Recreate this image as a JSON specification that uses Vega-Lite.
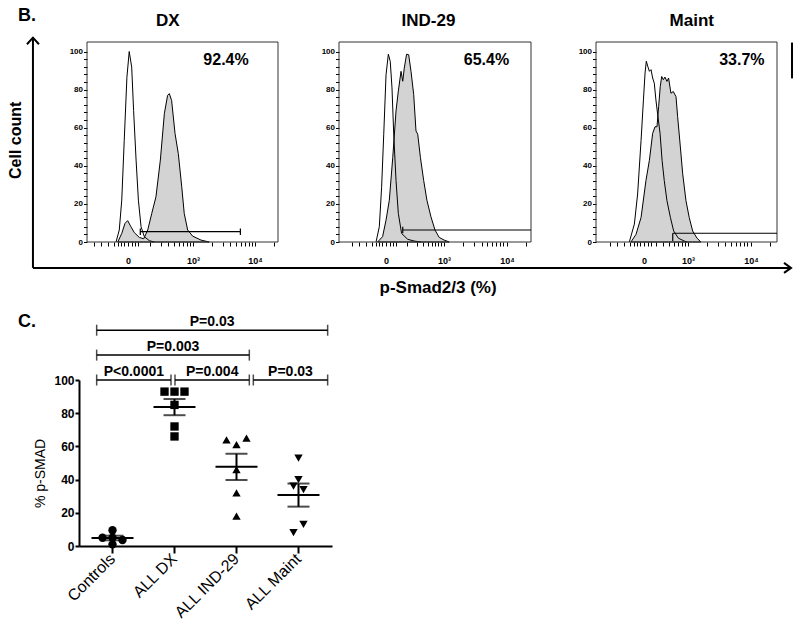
{
 "$schema": "https://vega.github.io/schema/vega-lite/v6.json",
 "padding": {"left": 7, "top": 6, "right": 0, "bottom": 0},
 "config": {
  "font": "Liberation Sans",
  "view": {"stroke": null},
  "axis": {"domainColor": "black", "tickColor": "black", "labelColor": "black", "titleColor": "black", "grid": false},
  "text": {"color": "black"}
 },
 "datasets": {
  "dx_open": [{"x":15.2,"y":0},{"x":16.9,"y":6.3},{"x":18.2,"y":22},{"x":19.5,"y":53.4},{"x":20.9,"y":86.5},{"x":22.1,"y":100},{"x":23.4,"y":91.8},{"x":24.4,"y":69},{"x":25.7,"y":43},{"x":26.9,"y":22},{"x":28.3,"y":8},{"x":30,"y":2.8},{"x":32.6,"y":0.7},{"x":35.2,"y":0}],
  "dx_fill": [{"x":16.1,"y":0},{"x":18.2,"y":4.5},{"x":19.9,"y":9.8},{"x":21.3,"y":11.2},{"x":23,"y":8},{"x":24.8,"y":4.9},{"x":27.4,"y":2.4},{"x":29.7,"y":1.7},{"x":31.8,"y":6.3},{"x":33.9,"y":15},{"x":36.1,"y":23.7},{"x":38.4,"y":43},{"x":40.5,"y":67.4},{"x":42.2,"y":77},{"x":43.1,"y":77.9},{"x":44.3,"y":74.3},{"x":46.1,"y":56.9},{"x":47.8,"y":46.4},{"x":49.6,"y":29},{"x":50.9,"y":15},{"x":52.7,"y":6.3},{"x":55.3,"y":3.1},{"x":59.7,"y":1},{"x":64,"y":0}],
  "ind_open": [{"x":19.3,"y":0},{"x":21,"y":8},{"x":22.2,"y":28.8},{"x":23.3,"y":56.6},{"x":24.5,"y":87.8},{"x":25.7,"y":98.6},{"x":26.7,"y":94.8},{"x":27.6,"y":80.9},{"x":28.5,"y":56.6},{"x":29.7,"y":32.3},{"x":30.9,"y":15},{"x":32.6,"y":4.5},{"x":35.8,"y":1.4},{"x":39.2,"y":0.5},{"x":42.7,"y":0}],
  "ind_fill": [{"x":20.1,"y":0},{"x":22.7,"y":2.8},{"x":24.5,"y":11.5},{"x":26.2,"y":21.9},{"x":28,"y":44.4},{"x":29.7,"y":68.8},{"x":30.9,"y":79.2},{"x":32.3,"y":89.6},{"x":33.2,"y":84.4},{"x":34,"y":91.3},{"x":35.2,"y":98.6},{"x":36.3,"y":98.3},{"x":37.5,"y":89.6},{"x":38.9,"y":77.4},{"x":40.1,"y":58.3},{"x":41,"y":56.6},{"x":42.4,"y":44.4},{"x":44.1,"y":32.3},{"x":45.8,"y":21.9},{"x":47.9,"y":13.2},{"x":50,"y":6.3},{"x":52.2,"y":2.4},{"x":54.8,"y":1},{"x":57.4,"y":0}],
  "maint_open": [{"x":18.4,"y":0},{"x":21.2,"y":9.4},{"x":23,"y":25.2},{"x":24.9,"y":53.4},{"x":26.2,"y":74.6},{"x":27.1,"y":88.7},{"x":27.8,"y":94.9},{"x":28.6,"y":92.2},{"x":29.5,"y":89.6},{"x":30.4,"y":90.5},{"x":31.3,"y":86.1},{"x":32.2,"y":83.4},{"x":33.1,"y":74.6},{"x":34.1,"y":66.7},{"x":35.4,"y":57},{"x":36.5,"y":42.9},{"x":37.7,"y":32.3},{"x":39.2,"y":21.7},{"x":41.1,"y":12.9},{"x":42.9,"y":5.8},{"x":45.5,"y":2},{"x":48.8,"y":0.5},{"x":50.4,"y":0}],
  "maint_fill": [{"x":19.3,"y":0},{"x":22.1,"y":4},{"x":24.9,"y":12.9},{"x":27.6,"y":32.3},{"x":29.5,"y":42.9},{"x":31.3,"y":57},{"x":32.6,"y":60.5},{"x":33.7,"y":60.5},{"x":34.6,"y":71.1},{"x":35.5,"y":81.6},{"x":36.3,"y":86.9},{"x":37.2,"y":85.2},{"x":38.1,"y":86.6},{"x":39.2,"y":84.3},{"x":40.1,"y":86.1},{"x":41.4,"y":78.1},{"x":42.7,"y":79},{"x":44.2,"y":76.3},{"x":45.1,"y":65.8},{"x":46.6,"y":49.9},{"x":47.9,"y":35.8},{"x":49.7,"y":21.7},{"x":51.5,"y":12.9},{"x":53.4,"y":5.8},{"x":55.8,"y":2},{"x":58,"y":0}],
  "smad": [
   {"group":"Controls","value":9.5,"slot":0},{"group":"Controls","value":5,"slot":-2},{"group":"Controls","value":5,"slot":0},{"group":"Controls","value":3.6,"slot":2},{"group":"Controls","value":1,"slot":0},
   {"group":"ALL DX","value":93,"slot":-2},{"group":"ALL DX","value":93,"slot":0},{"group":"ALL DX","value":93,"slot":2},{"group":"ALL DX","value":85,"slot":0},{"group":"ALL DX","value":72,"slot":0},{"group":"ALL DX","value":66,"slot":0},
   {"group":"ALL IND-29","value":64,"slot":-2},{"group":"ALL IND-29","value":61,"slot":0},{"group":"ALL IND-29","value":65,"slot":2},{"group":"ALL IND-29","value":46,"slot":0},{"group":"ALL IND-29","value":32,"slot":0},{"group":"ALL IND-29","value":18,"slot":0},
   {"group":"ALL Maint","value":53,"slot":0},{"group":"ALL Maint","value":40,"slot":0},{"group":"ALL Maint","value":36,"slot":-1},{"group":"ALL Maint","value":34,"slot":1},{"group":"ALL Maint","value":13,"slot":1},{"group":"ALL Maint","value":8,"slot":-1}
  ],
  "brackets": [
   {"p":"P=0.03","from":1,"to":4,"level":130},
   {"p":"P=0.003","from":1,"to":3,"level":115},
   {"p":"P<0.0001","from":1,"to":2,"level":100},
   {"p":"P=0.004","from":2,"to":3,"level":100},
   {"p":"P=0.03","from":3,"to":4,"level":100}
  ]
 },
 "columns": 3,
 "align": "none",
 "bounds": "flush",
 "spacing": {"row": 138, "column": 7},
 "concat": [
  {
   "width": 199, "height": 200,
   "data": {"values": [{}]},
   "resolve": {"axis": {"x": "independent", "y": "independent"}},
   "layer": [
    {"data": {"name": "dx_fill"},
     "mark": {"type": "area", "fill": "#d3d3d3", "stroke": "black", "strokeWidth": 1},
     "encoding": {
      "x": {"field": "x", "type": "quantitative", "scale": {"domain": [-4.19, 100], "nice": false, "zero": false},
            "axis": {"values": [3.7,7.3,11,14.1,16.2,17.8,19.4,21.5,23.6,25.1,26.7,33,38.7,42.4,45.5,48.2,50.3,52.4,53.9,55.5,65.4,71.2,74.9,78,80.6,82.7,84.8,86.4,88,97.9],
                     "labelExpr": "datum.value == 21.5 ? '0' : datum.value == 55.5 ? '10³' : datum.value == 88 ? '10⁴' : ''",
                     "title": null, "domain": false, "tickSize": 4, "tickWidth": 1, "tickColor": "black", "labelColor": "black", "labelFontSize": 9, "labelFontWeight": "bold", "labelPadding": 10, "labelFlush": false, "labelOverlap": false}},
      "y": {"field": "y", "type": "quantitative", "scale": {"domain": [0, 105], "nice": false},
            "axis": {"values": [0,4,8,12,16,20,24,28,32,36,40,44,48,52,56,60,64,68,72,76,80,84,88,92,96,100],
                     "labelExpr": "datum.value % 20 === 0 ? datum.label : ''",
                     "title": null, "domain": false, "tickSize": 3.5, "tickWidth": 1, "tickColor": "black", "labelColor": "black", "labelFontSize": 8, "labelFontWeight": "bold", "labelPadding": 1, "offset": -8, "labelFlush": false, "labelOverlap": false}}
     }},
    {"data": {"name": "dx_open"},
     "mark": {"type": "line", "color": "black", "strokeWidth": 1},
     "encoding": {
      "x": {"field": "x", "type": "quantitative", "scale": {"domain": [-4.19, 100], "nice": false, "zero": false}, "axis": null},
      "y": {"field": "y", "type": "quantitative", "scale": {"domain": [0, 105], "nice": false}, "axis": null}
     }},
    {"mark": {"type": "rect", "fill": "white", "fillOpacity": 0, "stroke": "#333333", "strokeWidth": 1},
     "encoding": {
      "x": {"datum": 0, "type": "quantitative", "scale": {"domain": [-4.19, 100], "nice": false, "zero": false}, "axis": null},
      "x2": {"datum": 100},
      "y": {"datum": 0, "type": "quantitative", "scale": {"domain": [0, 105], "nice": false}, "axis": null},
      "y2": {"datum": 105}
     }},
    {"mark": {"type": "rule", "color": "black", "strokeWidth": 1.2},
     "encoding": {
      "x": {"datum": 27.9, "type": "quantitative", "scale": {"domain": [-4.19, 100], "nice": false, "zero": false}, "axis": null},
      "x2": {"datum": 80.3},
      "y": {"datum": 5.4, "type": "quantitative", "scale": {"domain": [0, 105], "nice": false}, "axis": null}
     }},
    {"mark": {"type": "rule", "color": "black", "strokeWidth": 1.2},
     "encoding": {
      "x": {"datum": 27.9, "type": "quantitative", "scale": {"domain": [-4.19, 100], "nice": false, "zero": false}, "axis": null},
      "y": {"datum": 3.7, "type": "quantitative", "scale": {"domain": [0, 105], "nice": false}, "axis": null},
      "y2": {"datum": 7.1}
     }},
    {"mark": {"type": "rule", "color": "black", "strokeWidth": 1.2},
     "encoding": {
      "x": {"datum": 80.3, "type": "quantitative", "scale": {"domain": [-4.19, 100], "nice": false, "zero": false}, "axis": null},
      "y": {"datum": 3.7, "type": "quantitative", "scale": {"domain": [0, 105], "nice": false}, "axis": null},
      "y2": {"datum": 7.1}
     }},
    {"mark": {"type": "text", "text": "92.4%", "fontSize": 16, "fontWeight": "bold", "align": "center", "baseline": "alphabetic"},
     "encoding": {
      "x": {"datum": 72.8, "type": "quantitative", "scale": {"domain": [-4.19, 100], "nice": false, "zero": false}, "axis": null},
      "y": {"datum": 92.7, "type": "quantitative", "scale": {"domain": [0, 105], "nice": false}, "axis": null}
     }},
    {"mark": {"type": "text", "text": "DX", "fontSize": 17, "fontWeight": "bold", "align": "center", "baseline": "alphabetic"},
     "encoding": {
      "x": {"datum": 42.3, "type": "quantitative", "scale": {"domain": [-4.19, 100], "nice": false, "zero": false}, "axis": null},
      "y": {"datum": 113.6, "type": "quantitative", "scale": {"domain": [0, 105], "nice": false}, "axis": null}
     }},
    {"mark": {"type": "text", "text": "B.", "fontSize": 18, "fontWeight": "bold", "align": "left", "baseline": "alphabetic"},
     "encoding": {
      "x": {"datum": -36.1, "type": "quantitative", "scale": {"domain": [-4.19, 100], "nice": false, "zero": false}, "axis": null},
      "y": {"datum": 116.2, "type": "quantitative", "scale": {"domain": [0, 105], "nice": false}, "axis": null}
     }},
    {"mark": {"type": "text", "text": "Cell count", "fontSize": 16, "fontWeight": "bold", "align": "center", "baseline": "middle", "angle": 270},
     "encoding": {
      "x": {"datum": -37.2, "type": "quantitative", "scale": {"domain": [-4.19, 100], "nice": false, "zero": false}, "axis": null},
      "y": {"datum": 53.4, "type": "quantitative", "scale": {"domain": [0, 105], "nice": false}, "axis": null}
     }},
    {"mark": {"type": "rule", "color": "black", "strokeWidth": 2},
     "encoding": {
      "x": {"datum": -28.3, "type": "quantitative", "scale": {"domain": [-4.19, 100], "nice": false, "zero": false}, "axis": null},
      "y": {"datum": -13.6, "type": "quantitative", "scale": {"domain": [0, 105], "nice": false}, "axis": null},
      "y2": {"datum": 107.3}
     }},
    {"mark": {"type": "rule", "color": "black", "strokeWidth": 2},
     "encoding": {
      "x": {"datum": -28.3, "type": "quantitative", "scale": {"domain": [-4.19, 100], "nice": false, "zero": false}, "axis": null},
      "x2": {"datum": 368.6},
      "y": {"datum": -13.6, "type": "quantitative", "scale": {"domain": [0, 105], "nice": false}, "axis": null}
     }},
    {"mark": {"type": "point", "shape": "M-1,1.1L0,0L1,1.1", "filled": false, "color": "black", "strokeWidth": 2, "size": 144, "opacity": 1},
     "encoding": {
      "x": {"datum": -28.3, "type": "quantitative", "scale": {"domain": [-4.19, 100], "nice": false, "zero": false}, "axis": null},
      "y": {"datum": 107.3, "type": "quantitative", "scale": {"domain": [0, 105], "nice": false}, "axis": null}
     }},
    {"mark": {"type": "point", "shape": "M-1.4,-1L0,0L-1.4,1", "filled": false, "color": "black", "strokeWidth": 2, "size": 100, "opacity": 1},
     "encoding": {
      "x": {"datum": 368.6, "type": "quantitative", "scale": {"domain": [-4.19, 100], "nice": false, "zero": false}, "axis": null},
      "y": {"datum": -13.6, "type": "quantitative", "scale": {"domain": [0, 105], "nice": false}, "axis": null}
     }}
   ]
  },
  {
   "width": 246, "height": 200,
   "data": {"values": [{}]},
   "resolve": {"axis": {"x": "independent", "y": "independent"}},
   "layer": [
    {"data": {"name": "ind_fill"},
     "mark": {"type": "area", "fill": "#d3d3d3", "stroke": "black", "strokeWidth": 1},
     "encoding": {
      "x": {"field": "x", "type": "quantitative", "scale": {"domain": [0, 128.125], "nice": false, "zero": false},
            "axis": {"values": [6.8,10.4,14.1,17.2,19.3,20.8,22.4,24.5,26.6,28.1,29.7,35.4,40.6,43.8,46.4,48.4,50,51.6,53.1,54.7,64.6,70.3,74.5,77.1,79.7,81.8,83.9,85.4,87.5,97.4],
                     "labelExpr": "datum.value == 24.5 ? '0' : datum.value == 54.7 ? '10³' : datum.value == 87.5 ? '10⁴' : ''",
                     "title": null, "domain": false, "tickSize": 4, "tickWidth": 1, "tickColor": "black", "labelColor": "black", "labelFontSize": 9, "labelFontWeight": "bold", "labelPadding": 10, "labelFlush": false, "labelOverlap": false}},
      "y": {"field": "y", "type": "quantitative", "scale": {"domain": [0, 105], "nice": false},
            "axis": {"values": [0,4,8,12,16,20,24,28,32,36,40,44,48,52,56,60,64,68,72,76,80,84,88,92,96,100],
                     "labelExpr": "datum.value % 20 === 0 ? datum.label : ''",
                     "title": null, "domain": false, "tickSize": 3.5, "tickWidth": 1, "tickColor": "black", "labelColor": "black", "labelFontSize": 8, "labelFontWeight": "bold", "labelPadding": 1, "labelFlush": false, "labelOverlap": false}}
     }},
    {"data": {"name": "ind_open"},
     "mark": {"type": "line", "color": "black", "strokeWidth": 1},
     "encoding": {
      "x": {"field": "x", "type": "quantitative", "scale": {"domain": [0, 128.125], "nice": false, "zero": false}, "axis": null},
      "y": {"field": "y", "type": "quantitative", "scale": {"domain": [0, 105], "nice": false}, "axis": null}
     }},
    {"mark": {"type": "rect", "fill": "white", "fillOpacity": 0, "stroke": "#333333", "strokeWidth": 1},
     "encoding": {
      "x": {"datum": 0, "type": "quantitative", "scale": {"domain": [0, 128.125], "nice": false, "zero": false}, "axis": null},
      "x2": {"datum": 100},
      "y": {"datum": 0, "type": "quantitative", "scale": {"domain": [0, 105], "nice": false}, "axis": null},
      "y2": {"datum": 105}
     }},
    {"mark": {"type": "rule", "color": "black", "strokeWidth": 1.2},
     "encoding": {
      "x": {"datum": 33.2, "type": "quantitative", "scale": {"domain": [0, 128.125], "nice": false, "zero": false}, "axis": null},
      "x2": {"datum": 100},
      "y": {"datum": 6.3, "type": "quantitative", "scale": {"domain": [0, 105], "nice": false}, "axis": null}
     }},
    {"mark": {"type": "rule", "color": "black", "strokeWidth": 1.2},
     "encoding": {
      "x": {"datum": 33.2, "type": "quantitative", "scale": {"domain": [0, 128.125], "nice": false, "zero": false}, "axis": null},
      "y": {"datum": 4.6, "type": "quantitative", "scale": {"domain": [0, 105], "nice": false}, "axis": null},
      "y2": {"datum": 8}
     }},
    {"mark": {"type": "text", "text": "65.4%", "fontSize": 16, "fontWeight": "bold", "align": "center", "baseline": "alphabetic"},
     "encoding": {
      "x": {"datum": 76.8, "type": "quantitative", "scale": {"domain": [0, 128.125], "nice": false, "zero": false}, "axis": null},
      "y": {"datum": 93, "type": "quantitative", "scale": {"domain": [0, 105], "nice": false}, "axis": null}
     }},
    {"mark": {"type": "text", "text": "IND-29", "fontSize": 17, "fontWeight": "bold", "align": "center", "baseline": "alphabetic"},
     "encoding": {
      "x": {"datum": 46.6, "type": "quantitative", "scale": {"domain": [0, 128.125], "nice": false, "zero": false}, "axis": null},
      "y": {"datum": 113.3, "type": "quantitative", "scale": {"domain": [0, 105], "nice": false}, "axis": null}
     }},
    {"mark": {"type": "text", "text": "p-Smad2/3 (%)", "fontSize": 17, "fontWeight": "bold", "align": "center", "baseline": "middle"},
     "encoding": {
      "x": {"datum": 51.6, "type": "quantitative", "scale": {"domain": [0, 128.125], "nice": false, "zero": false}, "axis": null},
      "y": {"datum": -24.1, "type": "quantitative", "scale": {"domain": [0, 105], "nice": false}, "axis": null}
     }}
   ]
  },
  {
   "width": 185, "height": 200,
   "data": {"values": [{}]},
   "resolve": {"axis": {"x": "independent", "y": "independent"}},
   "layer": [
    {"data": {"name": "maint_fill"},
     "mark": {"type": "area", "fill": "#d3d3d3", "stroke": "black", "strokeWidth": 1},
     "encoding": {
      "x": {"field": "x", "type": "quantitative", "scale": {"domain": [-2.21, 100], "nice": false, "zero": false},
            "axis": {"values": [7.7,11.6,15.5,18.8,21,22.7,24.3,26.5,28.7,30.4,33.1,37,40.3,43.1,45.3,47.5,49.2,50.8,61.3,67.4,71.3,74.6,77.4,79.6,81.8,83.4,85.6,96.1],
                     "labelExpr": "datum.value == 26.5 ? '0' : datum.value == 50.8 ? '10³' : datum.value == 85.6 ? '10⁴' : ''",
                     "title": null, "domain": false, "tickSize": 4, "tickWidth": 1, "tickColor": "black", "labelColor": "black", "labelFontSize": 9, "labelFontWeight": "bold", "labelPadding": 10, "labelFlush": false, "labelOverlap": false}},
      "y": {"field": "y", "type": "quantitative", "scale": {"domain": [0, 105], "nice": false},
            "axis": {"values": [0,4,8,12,16,20,24,28,32,36,40,44,48,52,56,60,64,68,72,76,80,84,88,92,96,100],
                     "labelExpr": "datum.value % 20 === 0 ? datum.label : ''",
                     "title": null, "domain": false, "tickSize": 3.5, "tickWidth": 1, "tickColor": "black", "labelColor": "black", "labelFontSize": 8, "labelFontWeight": "bold", "labelPadding": 1, "offset": -4, "labelFlush": false, "labelOverlap": false}}
     }},
    {"data": {"name": "maint_open"},
     "mark": {"type": "line", "color": "black", "strokeWidth": 1},
     "encoding": {
      "x": {"field": "x", "type": "quantitative", "scale": {"domain": [-2.21, 100], "nice": false, "zero": false}, "axis": null},
      "y": {"field": "y", "type": "quantitative", "scale": {"domain": [0, 105], "nice": false}, "axis": null}
     }},
    {"mark": {"type": "rect", "fill": "white", "fillOpacity": 0, "stroke": "#333333", "strokeWidth": 1},
     "encoding": {
      "x": {"datum": 0, "type": "quantitative", "scale": {"domain": [-2.21, 100], "nice": false, "zero": false}, "axis": null},
      "x2": {"datum": 100},
      "y": {"datum": 0, "type": "quantitative", "scale": {"domain": [0, 105], "nice": false}, "axis": null},
      "y2": {"datum": 105}
     }},
    {"mark": {"type": "rule", "color": "black", "strokeWidth": 1.2},
     "encoding": {
      "x": {"datum": 42.4, "type": "quantitative", "scale": {"domain": [-2.21, 100], "nice": false, "zero": false}, "axis": null},
      "x2": {"datum": 100},
      "y": {"datum": 4.6, "type": "quantitative", "scale": {"domain": [0, 105], "nice": false}, "axis": null}
     }},
    {"mark": {"type": "rule", "color": "black", "strokeWidth": 1.2},
     "encoding": {
      "x": {"datum": 42.4, "type": "quantitative", "scale": {"domain": [-2.21, 100], "nice": false, "zero": false}, "axis": null},
      "y": {"datum": 0.5, "type": "quantitative", "scale": {"domain": [0, 105], "nice": false}, "axis": null},
      "y2": {"datum": 4.6}
     }},
    {"mark": {"type": "text", "text": "33.7%", "fontSize": 16, "fontWeight": "bold", "align": "center", "baseline": "alphabetic"},
     "encoding": {
      "x": {"datum": 80.6, "type": "quantitative", "scale": {"domain": [-2.21, 100], "nice": false, "zero": false}, "axis": null},
      "y": {"datum": 93, "type": "quantitative", "scale": {"domain": [0, 105], "nice": false}, "axis": null}
     }},
    {"mark": {"type": "text", "text": "Maint", "fontSize": 17, "fontWeight": "bold", "align": "center", "baseline": "alphabetic"},
     "encoding": {
      "x": {"datum": 52.9, "type": "quantitative", "scale": {"domain": [-2.21, 100], "nice": false, "zero": false}, "axis": null},
      "y": {"datum": 113.3, "type": "quantitative", "scale": {"domain": [0, 105], "nice": false}, "axis": null}
     }},
    {"mark": {"type": "rule", "color": "black", "strokeWidth": 2},
     "encoding": {
      "x": {"datum": 108.3, "type": "quantitative", "scale": {"domain": [-2.21, 100], "nice": false, "zero": false}, "axis": null},
      "y": {"datum": 85.9, "type": "quantitative", "scale": {"domain": [0, 105], "nice": false}, "axis": null},
      "y2": {"datum": 104.7}
     }}
   ]
  },
  {
   "width": 253, "height": 166,
   "resolve": {"scale": {"x": "independent"}, "axis": {"x": "independent", "y": "independent"}},
   "layer": [
    {
     "data": {"name": "smad"},
     "resolve": {"axis": {"y": "independent"}},
     "encoding": {
      "x": {"field": "group", "type": "nominal", "sort": ["Controls", "ALL DX", "ALL IND-29", "ALL Maint"],
            "scale": {"paddingInner": 0.597, "paddingOuter": 0.339},
            "axis": {"title": null, "labelAngle": -45, "labelAlign": "right", "labelBaseline": "middle", "labelFontSize": 16, "labelPadding": 3, "tickSize": 7, "tickWidth": 2, "domainWidth": 2,
                     "labelColor": "black", "tickColor": "black", "domainColor": "black"}}
     },
     "layer": [
      {"mark": {"type": "point", "filled": true, "color": "black", "size": 70, "opacity": 1},
       "encoding": {
        "xOffset": {"field": "slot", "type": "ordinal", "scale": {"domain": [-2, -1, 0, 1, 2]}},
        "y": {"field": "value", "type": "quantitative", "scale": {"domain": [0, 100], "nice": false},
              "axis": {"values": [0, 20, 40, 60, 80, 100], "title": "% p-SMAD", "titleFontSize": 14, "titleFontWeight": "normal", "titlePadding": 6, "titleY": 93,
                       "labelFontSize": 12, "labelFontWeight": "bold", "labelPadding": 1, "tickSize": 4, "tickWidth": 2, "domainWidth": 2, "labelFlush": false,
                       "labelColor": "black", "titleColor": "black", "tickColor": "black", "domainColor": "black"}},
        "shape": {"field": "group", "type": "nominal",
                  "scale": {"domain": ["Controls", "ALL DX", "ALL IND-29", "ALL Maint"], "range": ["circle", "square", "triangle-up", "triangle-down"]},
                  "legend": null}
       }},
      {"mark": {"type": "tick", "color": "black", "size": 42, "thickness": 2},
       "encoding": {
        "y": {"aggregate": "mean", "field": "value", "type": "quantitative", "scale": {"domain": [0, 100], "nice": false}, "axis": null}
       }},
      {"mark": {"type": "errorbar", "extent": "stderr", "ticks": true, "size": 22, "thickness": 2, "color": "black"},
       "encoding": {
        "y": {"field": "value", "type": "quantitative", "scale": {"domain": [0, 100], "nice": false}, "axis": null}
       }}
     ]
    },
    {
     "data": {"name": "brackets"},
     "layer": [
      {"mark": {"type": "rule", "color": "black", "strokeWidth": 1.5, "xOffset": 2, "x2Offset": -2},
       "encoding": {
        "x": {"field": "from", "type": "quantitative", "scale": {"domain": [0.8, 4.03], "nice": false, "zero": false}, "axis": null},
        "x2": {"field": "to"},
        "y": {"field": "level", "type": "quantitative", "scale": {"domain": [0, 100], "nice": false}, "axis": null}
       }},
      {"mark": {"type": "tick", "orient": "vertical", "size": 11, "thickness": 1.5, "color": "black", "xOffset": 2},
       "encoding": {
        "x": {"field": "from", "type": "quantitative", "scale": {"domain": [0.8, 4.03], "nice": false, "zero": false}, "axis": null},
        "y": {"field": "level", "type": "quantitative", "scale": {"domain": [0, 100], "nice": false}, "axis": null}
       }},
      {"mark": {"type": "tick", "orient": "vertical", "size": 11, "thickness": 1.5, "color": "black", "xOffset": -2},
       "encoding": {
        "x": {"field": "to", "type": "quantitative", "scale": {"domain": [0.8, 4.03], "nice": false, "zero": false}, "axis": null},
        "y": {"field": "level", "type": "quantitative", "scale": {"domain": [0, 100], "nice": false}, "axis": null}
       }},
      {"transform": [{"calculate": "(datum.from + datum.to) / 2", "as": "mid"}],
       "mark": {"type": "text", "fontSize": 14, "fontWeight": "bold", "align": "center", "baseline": "alphabetic", "dy": -4},
       "encoding": {
        "x": {"field": "mid", "type": "quantitative", "scale": {"domain": [0.8, 4.03], "nice": false, "zero": false}, "axis": null},
        "y": {"field": "level", "type": "quantitative", "scale": {"domain": [0, 100], "nice": false}, "axis": null},
        "text": {"field": "p"}
       }},
      {"data": {"values": [{}]},
       "mark": {"type": "text", "text": "C.", "fontSize": 18, "fontWeight": "bold", "align": "left", "baseline": "alphabetic"},
       "encoding": {
        "x": {"datum": 0.02, "type": "quantitative", "scale": {"domain": [0.8, 4.03], "nice": false, "zero": false}, "axis": null},
        "y": {"datum": 131.9, "type": "quantitative", "scale": {"domain": [0, 100], "nice": false}, "axis": null}
       }}
     ]
    }
   ]
  }
 ]
}
